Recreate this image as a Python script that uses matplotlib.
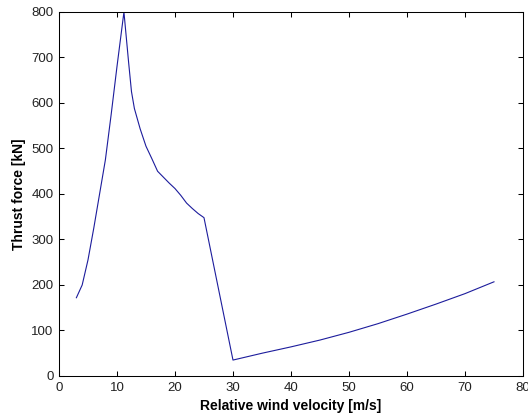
"""Thrust force versus relative wind velocity."""

import matplotlib.pyplot as plt

# relative wind velocity [m/s]
wind_speed = [3, 4, 5, 6, 7, 8, 9, 10, 11.2, 12, 12.5, 13, 14, 15, 16, 17,
              18, 19, 20, 21, 22, 23, 24, 25, 30, 35, 40, 45, 50, 55, 60,
              65, 70, 75]
# thrust force [kN]
thrust = [172, 200, 255, 325, 400, 475, 575, 680, 800, 690, 625, 588, 543,
          505, 478, 450, 437, 424, 412, 397, 380, 368, 357, 348, 35, 50, 64,
          79, 96, 115, 136, 158, 181, 207]

x_ticks = [0, 10, 20, 30, 40, 50, 60, 70, 80]
y_ticks = [0, 100, 200, 300, 400, 500, 600, 700, 800]

plt.rcParams["font.family"] = ["Liberation Sans", "DejaVu Sans"]

fig = plt.figure(figsize=(5.28, 4.18), dpi=100)
ax = fig.add_axes([0.1117, 0.1005, 0.8788, 0.8708])

ax.plot(wind_speed, thrust, color="#1c1c9c", linewidth=0.8)

ax.set_xlim(0, 80)
ax.set_ylim(0, 800)
ax.set_xticks(x_ticks)
ax.set_yticks(y_ticks)
ax.tick_params(direction="in", length=3.6, width=0.75, top=True, right=True,
               labelsize=9.5, labelcolor="#222222", pad=4)

for spine in ax.spines.values():
    spine.set_linewidth(0.75)

ax.set_xlabel("Relative wind velocity [m/s]", fontsize=10, fontweight="bold",
              labelpad=4)
ax.set_ylabel("Thrust force [kN]", fontsize=10, fontweight="bold", labelpad=4)

fig.savefig("out.png", dpi=100)
